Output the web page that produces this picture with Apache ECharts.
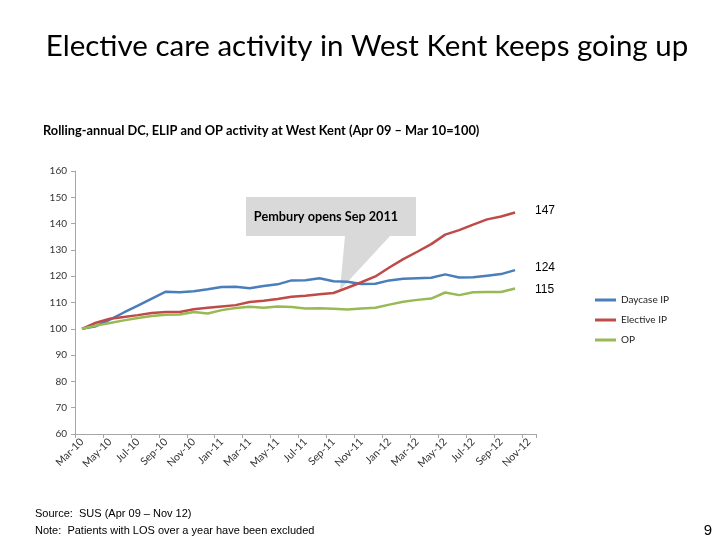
<!DOCTYPE html>
<html>
<head>
<meta charset="utf-8">
<script src="https://cdn.jsdelivr.net/npm/echarts@6/dist/echarts.min.js"></script>
<style>html,body{margin:0;padding:0;background:#fff}#c{width:720px;height:540px}</style>
</head>
<body>
<div id="c"></div>
<script>
const categories = ['Mar-10','Apr-10','May-10','Jun-10','Jul-10','Aug-10','Sep-10','Oct-10','Nov-10','Dec-10',
  'Jan-11','Feb-11','Mar-11','Apr-11','May-11','Jun-11','Jul-11','Aug-11','Sep-11','Oct-11','Nov-11','Dec-11',
  'Jan-12','Feb-12','Mar-12','Apr-12','May-12','Jun-12','Jul-12','Aug-12','Sep-12','Oct-12','Nov-12'];
const daycaseIP = [100,101,103.5,106.2,108.8,111.5,114.1,113.9,114.3,115.0,115.9,116.0,115.4,116.3,116.9,118.4,
  118.5,119.2,118.1,117.9,117.0,117.1,118.4,119.0,119.2,119.4,120.7,119.5,119.6,120.2,120.8,122.3];
const electiveIP = [100,102.3,103.8,104.5,105.2,106.0,106.4,106.4,107.4,108.0,108.5,109.0,110.2,110.7,111.3,112.2,
  112.6,113.1,113.6,115.6,117.7,119.9,123.3,126.5,129.3,132.2,135.8,137.5,139.6,141.6,142.7,144.2];
const op = [100,101.2,102.2,103.2,104.1,104.9,105.3,105.4,106.4,105.8,107.1,107.9,108.4,108.0,108.5,108.3,
  107.7,107.8,107.6,107.3,107.7,108.0,109.2,110.3,111.0,111.5,113.8,112.8,113.9,114.0,114.0,115.3];
const seriesNames = ['Daycase IP','Elective IP','OP'];
const endLabels = ['147','124','115'];

const chart = echarts.init(document.getElementById('c'), null, {renderer:'canvas'});
const colors = ['#4A7EBB','#BE4B48','#98B954'];
const axisFont = 'Lato, "Noto Sans", sans-serif';
chart.setOption({
  animation: false,
  backgroundColor: '#fff',
  color: colors,
  grid: {left: 75, right: 184, top: 171, bottom: 106, containLabel: false},
  legend: {
    orient: 'vertical', left: 595, top: 294, padding: 0, itemWidth: 21, itemHeight: 3, itemGap: 8, icon: 'rect',
    data: seriesNames,
    textStyle: {fontFamily: axisFont, fontSize: 10, color: '#222', lineHeight: 12}
  },
  xAxis: {
    type: 'category', data: categories, boundaryGap: true,
    axisLine: {lineStyle: {color: '#A6A6A6'}},
    axisTick: {show: true, interval: 1, length: 4, lineStyle: {color: '#A6A6A6'}},
    axisLabel: {interval: 1, rotate: 45, fontFamily: axisFont, fontSize: 10.5, color: '#333', margin: 6}
  },
  yAxis: {
    type: 'value', min: 60, max: 160, interval: 10,
    axisLine: {show: true, lineStyle: {color: '#A6A6A6'}},
    axisTick: {show: true, length: 4, lineStyle: {color: '#A6A6A6'}},
    splitLine: {show: false},
    axisLabel: {fontFamily: axisFont, fontSize: 10, color: '#333', margin: 8}
  },
  series: [
    {name: seriesNames[0], type: 'line', data: daycaseIP, symbol: 'none', lineStyle: {width: 2.5}, z: 3},
    {name: seriesNames[1], type: 'line', data: electiveIP, symbol: 'none', lineStyle: {width: 2.5}, z: 3},
    {name: seriesNames[2], type: 'line', data: op, symbol: 'none', lineStyle: {width: 2.5}, z: 3}
  ],
  graphic: [
    {type: 'text', x: 367, y: 46, z: 5, style: {text: 'Elective care activity in West Kent keeps going up',
      font: '29.5px Lato, "Noto Sans", sans-serif', fill: '#000', textAlign: 'center', textVerticalAlign: 'middle'}},
    {type: 'text', x: 43, y: 131, z: 5, style: {text: 'Rolling-annual DC, ELIP and OP activity at West Kent (Apr 09 – Mar 10=100)',
      font: 'bold 12.8px Lato, "Noto Sans", sans-serif', fill: '#000', textAlign: 'left', textVerticalAlign: 'middle'}},
    {type: 'polygon', z: 0, shape: {points: [[246,197],[416,197],[416,236],[390,236],[340,290],[345,236],[246,236]]},
      style: {fill: '#D9D9D9'}},
    {type: 'text', x: 326, y: 217, z: 5, style: {text: 'Pembury opens Sep 2011',
      font: 'bold 12.7px Lato, "Noto Sans", sans-serif', fill: '#000', textAlign: 'center', textVerticalAlign: 'middle'}},
    {type: 'text', x: 535, y: 211, z: 5, style: {text: endLabels[0], font: '12px "Liberation Sans", Arial, sans-serif', fill: '#000', textVerticalAlign: 'middle'}},
    {type: 'text', x: 535, y: 268, z: 5, style: {text: endLabels[1], font: '12px "Liberation Sans", Arial, sans-serif', fill: '#000', textVerticalAlign: 'middle'}},
    {type: 'text', x: 535, y: 290, z: 5, style: {text: endLabels[2], font: '12px "Liberation Sans", Arial, sans-serif', fill: '#000', textVerticalAlign: 'middle'}},
    {type: 'text', x: 35, y: 514, z: 5, style: {text: 'Source:  SUS (Apr 09 – Nov 12)', font: '11px "Liberation Sans", Arial, sans-serif', fill: '#000', textVerticalAlign: 'middle'}},
    {type: 'text', x: 35, y: 531, z: 5, style: {text: 'Note:  Patients with LOS over a year have been excluded', font: '11px "Liberation Sans", Arial, sans-serif', fill: '#000', textVerticalAlign: 'middle'}},
    {type: 'text', x: 712, y: 531, z: 5, style: {text: '9', font: '15px "Liberation Sans", Arial, sans-serif', fill: '#000', textAlign: 'right', textVerticalAlign: 'middle'}}
  ]
});
</script>
</body>
</html>
